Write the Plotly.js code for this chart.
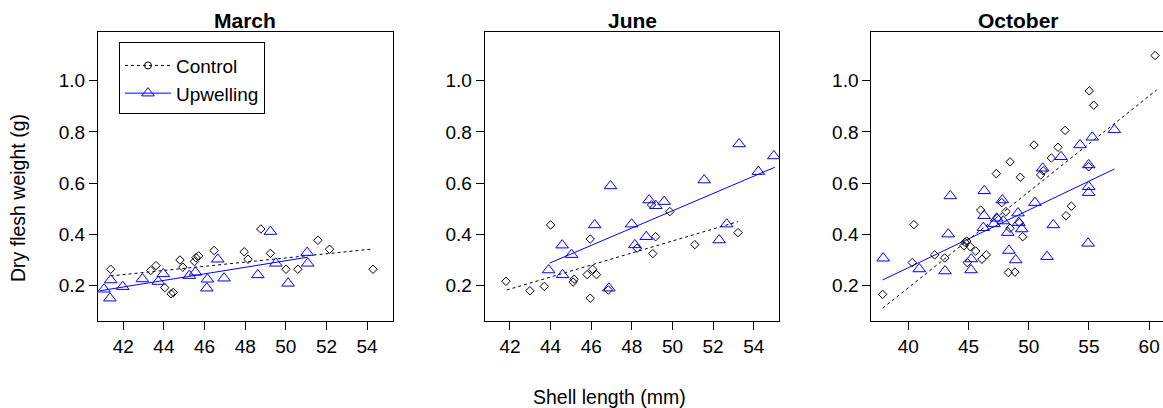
<!DOCTYPE html>
<html><head><meta charset="utf-8">
<script src="https://cdn.plot.ly/plotly-3.0.1.min.js"></script>
<style>html,body{margin:0;padding:0;background:#fff}#chart{width:1163px;height:408px}</style>
</head><body><div id="chart"></div>
<script>
const panelTitles = ['March', 'June', 'October'];
const seriesNames = ['Control', 'Upwelling'];
const yTicks = [0.2, 0.4, 0.6, 0.8, 1.0];
const xTicksMarchJune = [42, 44, 46, 48, 50, 52, 54];
const xTicksOctober = [40, 45, 50, 55, 60];

const marchControlX = [41.38, 43.35, 43.61, 44.04, 44.35, 44.46, 44.79, 44.93, 45.50, 45.58, 45.71, 46.47, 47.95, 48.14, 48.77, 49.24, 50.01, 50.59, 51.58, 52.15, 54.29];
const marchControlY = [0.264, 0.259, 0.278, 0.192, 0.168, 0.173, 0.300, 0.272, 0.294, 0.309, 0.316, 0.337, 0.332, 0.303, 0.421, 0.326, 0.264, 0.264, 0.377, 0.342, 0.264];
const marchUpX = [41.05, 41.38, 41.34, 41.97, 42.94, 43.72, 43.97, 45.25, 45.55, 46.14, 46.11, 46.65, 46.96, 48.62, 49.24, 49.51, 50.11, 51.05, 51.08];
const marchUpY = [0.186, 0.222, 0.151, 0.196, 0.226, 0.216, 0.246, 0.239, 0.252, 0.225, 0.190, 0.303, 0.229, 0.242, 0.411, 0.287, 0.209, 0.329, 0.287];
const marchControlFitX = [41.38, 54.29];
const marchControlFitY = [0.238, 0.343];
const marchUpFitX = [40.85, 51.08];
const marchUpFitY = [0.180, 0.311];

const juneControlX = [41.80, 42.98, 43.69, 44.00, 45.16, 45.11, 45.95, 45.80, 46.07, 46.26, 45.95, 46.84, 48.26, 49.03, 49.17, 48.97, 49.87, 51.10, 53.23];
const juneControlY = [0.217, 0.180, 0.197, 0.437, 0.225, 0.214, 0.382, 0.243, 0.264, 0.243, 0.151, 0.183, 0.346, 0.325, 0.391, 0.515, 0.489, 0.360, 0.407];
const juneUpX = [43.90, 44.59, 44.57, 45.03, 46.17, 46.95, 46.87, 47.99, 48.15, 48.71, 48.85, 49.18, 49.59, 51.56, 52.30, 52.67, 53.28, 54.23, 54.99];
const juneUpY = [0.261, 0.242, 0.358, 0.321, 0.437, 0.589, 0.190, 0.440, 0.359, 0.391, 0.534, 0.512, 0.528, 0.612, 0.378, 0.440, 0.753, 0.645, 0.706];
const juneControlFitX = [41.84, 53.23];
const juneControlFitY = [0.183, 0.450];
const juneUpFitX = [43.95, 55.04];
const juneUpFitY = [0.288, 0.662];

const octControlX = [37.87, 40.33, 40.47, 42.19, 43.02, 44.71, 44.85, 44.63, 45.15, 45.60, 44.90, 46.12, 46.48, 46.01, 47.31, 48.11, 47.76, 47.39, 48.45, 48.31, 48.86, 48.45, 49.30, 49.50, 49.22, 50.44, 50.99, 51.21, 51.88, 52.43, 53.02, 53.10, 53.54, 55.03, 55.40, 54.98, 60.49];
const octControlY = [0.166, 0.290, 0.438, 0.320, 0.308, 0.369, 0.374, 0.356, 0.352, 0.335, 0.290, 0.303, 0.320, 0.495, 0.637, 0.489, 0.524, 0.463, 0.683, 0.251, 0.253, 0.424, 0.623, 0.391, 0.446, 0.749, 0.632, 0.648, 0.698, 0.740, 0.806, 0.473, 0.510, 0.960, 0.904, 0.664, 1.098];
const octUpX = [37.92, 40.91, 43.05, 43.32, 43.49, 45.21, 45.23, 46.31, 46.29, 46.23, 47.34, 47.12, 47.81, 47.89, 48.26, 48.36, 48.92, 49.11, 49.17, 49.42, 50.52, 51.16, 51.52, 52.04, 52.68, 54.26, 54.98, 54.98, 54.98, 54.93, 55.28, 57.11];
const octUpY = [0.307, 0.265, 0.257, 0.401, 0.550, 0.261, 0.304, 0.570, 0.473, 0.426, 0.463, 0.441, 0.534, 0.452, 0.407, 0.337, 0.300, 0.483, 0.446, 0.421, 0.524, 0.658, 0.313, 0.437, 0.703, 0.749, 0.671, 0.586, 0.563, 0.365, 0.779, 0.808];
const octControlFitX = [37.87, 60.63];
const octControlFitY = [0.112, 0.964];
const octUpFitX = [37.87, 57.11];
const octUpFitY = [0.222, 0.655];

const W = 1163, H = 408;
const FONT = '"Liberation Sans", Arial, sans-serif';
const controlColor = '#000000';
const upColor = '#0000FF';

const panels = [
  {cx: marchControlX, cy: marchControlY, ux: marchUpX, uy: marchUpY, cfx: marchControlFitX, cfy: marchControlFitY, ufx: marchUpFitX, ufy: marchUpFitY},
  {cx: juneControlX, cy: juneControlY, ux: juneUpX, uy: juneUpY, cfx: juneControlFitX, cfy: juneControlFitY, ufx: juneUpFitX, ufy: juneUpFitY},
  {cx: octControlX, cy: octControlY, ux: octUpX, uy: octUpY, cfx: octControlFitX, cfy: octControlFitY, ufx: octUpFitX, ufy: octUpFitY}
];

const xDomPx = [[98, 392.7], [484.7, 779.3], [871.3, 1163]];
const xRanges = [[40.755, 55.26], [40.755, 55.26], [36.93, 61.15]];
const xTickSets = [xTicksMarchJune, xTicksMarchJune, xTicksOctober];
const yDom = [1 - 321 / H, 1 - 31.7 / H];
const yRange = [0.062, 1.191];
const TICKFONT = 19;

const traces = [];
const layout = {
  width: W, height: H,
  margin: {l: 0, r: 0, t: 0, b: 0},
  paper_bgcolor: '#ffffff', plot_bgcolor: '#ffffff',
  font: {family: FONT, size: TICKFONT, color: '#000'},
  showlegend: true,
  legend: {
    x: 119 / W, y: 1 - 41.7 / H, xanchor: 'left', yanchor: 'top',
    bordercolor: '#000', borderwidth: 1, bgcolor: '#fff',
    font: {family: FONT, size: 19, color: '#000'},
    itemwidth: 46,
    title: {text: '\u00a0', font: {family: FONT, size: 3}},
    tracegroupgap: 0
  },
  annotations: [],
  shapes: []
};

panels.forEach((p, i) => {
  const sfx = i === 0 ? '' : String(i + 1);
  const xa = 'x' + sfx, ya = 'y' + sfx;
  traces.push({x: p.cfx, y: p.cfy, xaxis: xa, yaxis: ya, mode: 'lines', showlegend: false,
    line: {color: controlColor, width: 1, dash: 'dot'}, hoverinfo: 'skip'});
  traces.push({x: p.ufx, y: p.ufy, xaxis: xa, yaxis: ya, mode: 'lines', showlegend: false,
    line: {color: upColor, width: 1}, hoverinfo: 'skip'});
  traces.push({x: p.cx, y: p.cy, xaxis: xa, yaxis: ya, mode: 'markers', showlegend: false, name: seriesNames[0],
    marker: {symbol: 'diamond-open', size: 6.5, color: controlColor, line: {width: 1, color: controlColor}}});
  traces.push({x: p.ux, y: p.uy, xaxis: xa, yaxis: ya, mode: 'markers', showlegend: false, name: seriesNames[1],
    marker: {symbol: 'triangle-up-open', size: 11, color: upColor, line: {width: 1, color: upColor}}});

  layout['xaxis' + sfx] = {
    domain: [xDomPx[i][0] / W, xDomPx[i][1] / W], range: xRanges[i], anchor: ya,
    tickmode: 'array', tickvals: xTickSets[i], ticktext: xTickSets[i].map(String),
    ticks: 'outside', ticklen: 8, tickwidth: 1, tickcolor: '#000',
    showline: true, linecolor: '#000', linewidth: 1, mirror: true,
    showgrid: false, zeroline: false, fixedrange: true,
    tickfont: {family: FONT, size: TICKFONT, color: '#000'}
  };
  layout['yaxis' + sfx] = {
    domain: yDom, range: yRange, anchor: xa,
    tickmode: 'array', tickvals: yTicks, ticktext: yTicks.map(v => v.toFixed(1)),
    ticks: 'outside', ticklen: 8, tickwidth: 1, tickcolor: '#000',
    showline: true, linecolor: '#000', linewidth: 1, mirror: i < 2,
    showgrid: false, zeroline: false, fixedrange: true,
    tickfont: {family: FONT, size: TICKFONT, color: '#000'}
  };
  layout.annotations.push({
    text: '<b>' + panelTitles[i] + '</b>', xref: 'paper', yref: 'paper',
    x: (xDomPx[i][0] + (i === 2 ? 294.6 : (xDomPx[i][1] - xDomPx[i][0])) / 2) / W,
    y: 1 - 20 / H, xanchor: 'center', yanchor: 'middle', showarrow: false,
    font: {family: FONT, size: 21, color: '#000'}
  });
});

// legend entries
traces.push({x: [null], y: [null], xaxis: 'x', yaxis: 'y', mode: 'lines+markers', name: seriesNames[0],
  line: {color: controlColor, width: 1, dash: 'dot'},
  marker: {symbol: 'circle-open', size: 7, color: controlColor, line: {width: 1, color: controlColor}}});
traces.push({x: [null], y: [null], xaxis: 'x', yaxis: 'y', mode: 'lines+markers', name: seriesNames[1],
  line: {color: upColor, width: 1},
  marker: {symbol: 'triangle-up-open', size: 11, color: upColor, line: {width: 1, color: upColor}}});

layout.annotations.push({
  text: 'Dry flesh weight (g)', xref: 'paper', yref: 'paper', x: 18 / W, y: 1 - 198 / H,
  xanchor: 'center', yanchor: 'middle', textangle: -90, showarrow: false,
  font: {family: FONT, size: 19.5, color: '#000'}
});
layout.annotations.push({
  text: 'Shell length (mm)', xref: 'paper', yref: 'paper', x: 610 / W, y: 1 - 396.7 / H,
  xanchor: 'center', yanchor: 'middle', showarrow: false,
  font: {family: FONT, size: 19.5, color: '#000'}
});

Plotly.newPlot('chart', traces, layout, {displayModeBar: false, staticPlot: true});
</script></body></html>
